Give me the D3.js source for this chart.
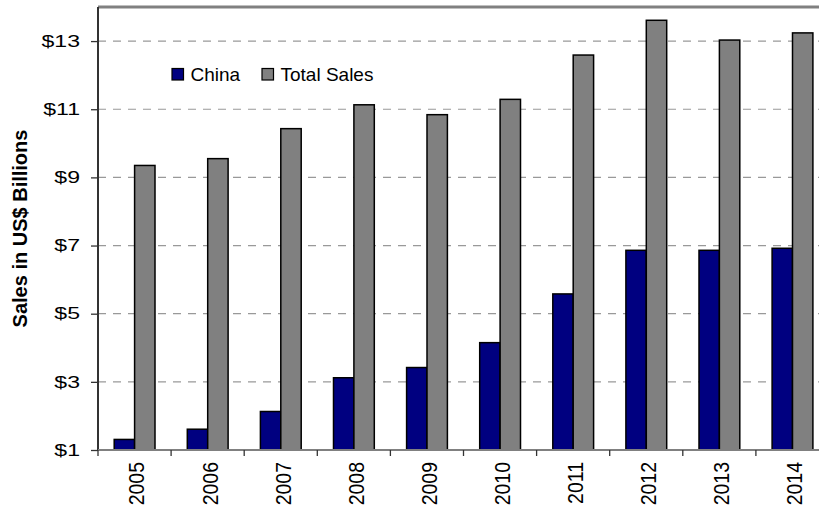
<!DOCTYPE html>
<html>
<head>
<meta charset="utf-8">
<script src="https://cdn.jsdelivr.net/npm/d3@7/dist/d3.min.js"></script>
<style>
  html, body { margin: 0; padding: 0; background: #fff; }
  svg { display: block; }
  text { font-family: "Liberation Sans", Arial, sans-serif; fill: #000; }
</style>
</head>
<body>
<svg id="chart" width="819" height="508"></svg>
<script>
const years = ["2005","2006","2007","2008","2009","2010","2011","2012","2013","2014"];
const china = [1.31, 1.61, 2.13, 3.12, 3.42, 4.15, 5.58, 6.86, 6.86, 6.92];
const totalSales = [9.35, 9.55, 10.43, 11.13, 10.84, 11.29, 12.59, 13.61, 13.03, 13.24];
const seriesNames = ["China", "Total Sales"];
const yTicks = [1, 3, 5, 7, 9, 11, 13];

const colors = { "China": "#000080", "Total Sales": "#808080" };

const svg = d3.select("#chart");
const pLeft = 98, pRight = 829, pTop = 7, pBottom = 450;

const x0 = d3.scaleBand().domain(years).range([pLeft, pRight]).padding(0);
const x1 = d3.scaleBand().domain(seriesNames).range([16.2, 57]).padding(0);
const y = d3.scaleLinear().domain([1, 14]).range([pBottom, pTop]);

const data = years.map((yr, i) => ({ year: yr, values: [
  { key: "China", value: china[i] },
  { key: "Total Sales", value: totalSales[i] }
]}));

// gridlines
svg.append("g").selectAll("line").data(yTicks.filter(t => t !== 1)).join("line")
  .attr("x1", pLeft).attr("x2", 819)
  .attr("y1", d => y(d)).attr("y2", d => y(d))
  .attr("stroke", "#999").attr("stroke-width", 1.2)
  .attr("stroke-dasharray", "8,7");

// top border
svg.append("line").attr("x1", pLeft).attr("x2", 819).attr("y1", pTop).attr("y2", pTop)
  .attr("stroke", "#808080").attr("stroke-width", 3);

// bars
const groups = svg.append("g").selectAll("g").data(data).join("g")
  .attr("transform", d => `translate(${x0(d.year)},0)`);
groups.selectAll("rect").data(d => d.values).join("rect")
  .attr("x", d => x1(d.key))
  .attr("width", x1.bandwidth())
  .attr("y", d => y(d.value))
  .attr("height", d => y(1) - y(d.value))
  .attr("fill", d => colors[d.key])
  .attr("stroke", "#000").attr("stroke-width", 1.5);

// y axis
const yAxis = d3.axisLeft(y).tickValues(yTicks).tickSize(7).tickPadding(10)
  .tickFormat(d => "$" + d);
const gy = svg.append("g").attr("transform", `translate(${pLeft},0)`).call(yAxis);
gy.select(".domain").attr("stroke", "#333").attr("stroke-width", 2).attr("d", `M0,${pTop}V${pBottom}`);
gy.selectAll(".tick line").attr("stroke", "#333").attr("stroke-width", 1.3);
gy.selectAll(".tick text")
  .attr("x", 0)
  .attr("transform", "translate(-18,0) scale(1.4,1)")
  .style("font-size", "16.5px").attr("fill", "#000");

// x axis
const gx = svg.append("g");
gx.append("line").attr("x1", pLeft).attr("x2", 819).attr("y1", pBottom).attr("y2", pBottom)
  .attr("stroke", "#808080").attr("stroke-width", 2);
gx.selectAll("line.tk").data(years).join("line").attr("class", "tk")
  .attr("x1", d => x0(d)).attr("x2", d => x0(d))
  .attr("y1", pBottom).attr("y2", pBottom + 6)
  .attr("stroke", "#333").attr("stroke-width", 1.3);
gx.selectAll("text").data(years).join("text")
  .attr("transform", d => `translate(${x0(d) + x0.bandwidth() / 2 + 2},462) rotate(-90) scale(1,1.15)`)
  .attr("text-anchor", "end").attr("dy", "0.35em")
  .style("font-size", "19.5px")
  .text(d => d);

// y label
svg.append("text")
  .attr("transform", `translate(20,${(pTop + pBottom) / 2}) rotate(-90)`)
  .attr("text-anchor", "middle").attr("dy", "0.35em")
  .style("font-size", "20px").style("font-weight", "bold")
  .text("Sales in US$ Billions");

// legend
const legend = svg.append("g");
const legendPos = [{ key: "China", x: 172 }, { key: "Total Sales", x: 262 }];
legendPos.forEach(l => {
  legend.append("rect").attr("x", l.x).attr("y", 68.5).attr("width", 11.5).attr("height", 11.5)
    .attr("fill", colors[l.key]).attr("stroke", "#000").attr("stroke-width", 1.2);
  legend.append("text").attr("x", l.x + 18.5).attr("y", 80.5)
    .style("font-size", "19px").text(l.key);
});
</script>
</body>
</html>
